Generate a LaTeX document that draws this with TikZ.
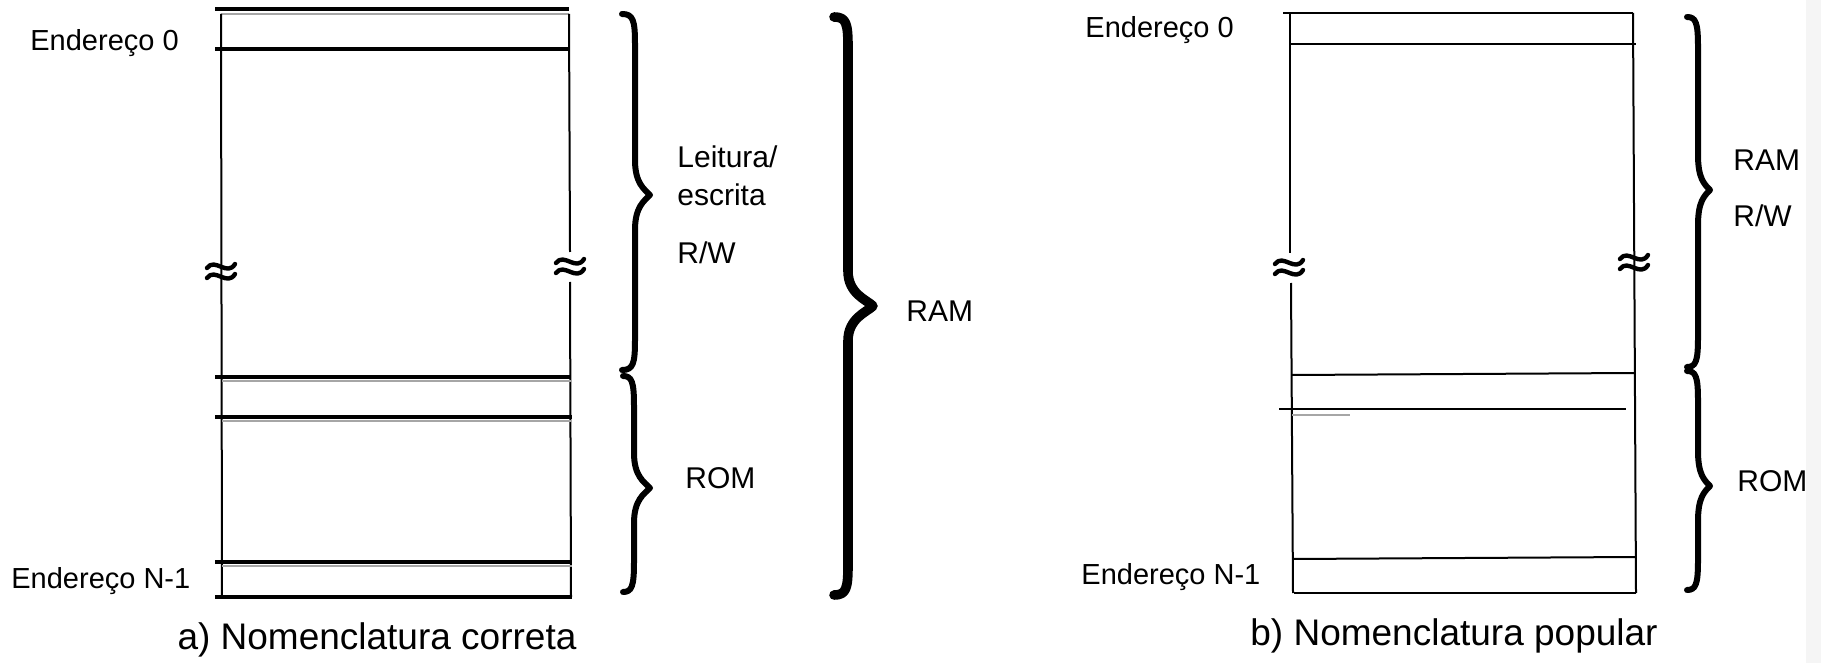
\documentclass[tikz,border=0pt]{standalone}
\usepackage{fontspec}
\setmainfont{Liberation Sans}
\newcommand\cbrace[7]{% #1 style, #2 x of ends, #3 ytop, #4 x body, #5 x tip, #6 y tip, #7 ybot
  \draw[#1] (#2,#3) .. controls (#4-2,#3) and (#4,#3+6) .. (#4,#3+30)
    -- (#4,#6-35) .. controls (#4,#6-12) and (#5-6,#6-6) .. (#5,#6)
    .. controls (#5-6,#6+6) and (#4,#6+12) .. (#4,#6+35)
    -- (#4,#7-30) .. controls (#4,#7-6) and (#4-2,#7) .. (#2,#7);}
\tikzset{
  pics/apx/.style={code={
    \draw[line width=2.2pt, line cap=round] (-14,-4) .. controls (-6,-15) and (6,5) .. (14,-8);
    \draw[line width=2.2pt, line cap=round] (-14,6) .. controls (-6,-5) and (6,15) .. (14,2);
  }}
}
\begin{document}
\begin{tikzpicture}[x=0.5pt,y=-0.5pt, line join=round,
  edge/.style={line width=1pt},
  thickln/.style={line width=1.6pt},
  ghost/.style={line width=0.6pt, black!35},
  brc/.style={line width=3pt, line cap=round},
  bigbrc/.style={line width=4.8pt, line cap=round},
  lbl/.style={font=\fontsize{15}{18}\selectfont, inner sep=0pt, anchor=west},
  addr/.style={font=\fontsize{14.5}{17}\selectfont, inner sep=0pt, anchor=west},
  capt/.style={font=\fontsize{18.5}{22}\selectfont, inner sep=0pt}]
\useasboundingbox (0,0) rectangle (1821,663);

% ---------- (a) ----------
\draw[thickln] (215,9) -- (569,9);
\draw[ghost] (221,14) -- (569,14);
\draw[edge] (221,14) -- (222,597);
\draw[edge] (569,14) -- (570,252);
\draw[edge] (570,282) -- (571,597);
\draw[thickln] (215,49) -- (570,49);
\draw[thickln] (215,377) -- (571,377);
\draw[ghost] (222,381) -- (571,381);
\draw[thickln] (215,417) -- (572,417);
\draw[ghost] (222,421) -- (572,421);
\draw[thickln] (215,562) -- (572,562);
\draw[ghost] (222,566) -- (572,566);
\draw[thickln] (215,597) -- (572,597);
\pic at (221,272) {apx};
\pic at (570,267) {apx};

\cbrace{brc}{622}{14}{635}{650}{195}{370}
\cbrace{brc}{623}{376}{634}{650}{488}{592}
\cbrace{bigbrc}{834}{17}{848}{873}{306}{595}

\node[addr] (e0a) at (30,43) {Endereço 0};
\node[addr] (ena) at (11,581) {Endereço N-1};
\node[lbl] (lei) at (677,157) {Leitura/};
\node[lbl] (esc) at (677,195) {escrita};
\node[lbl] (rwa) at (677,253) {R/W};
\node[lbl] (roma) at (685,478) {ROM};
\node[lbl] (rama) at (906,311) {RAM};
\node[capt] (capa) at (377,640) {a) Nomenclatura correta};

% ---------- (b) ----------
\draw[edge] (1283,13) -- (1633,13);
\draw[edge] (1290,44) -- (1636,44);
\draw[edge] (1290,13) -- (1290,253);
\draw[edge] (1291,283) -- (1293,593);
\draw[edge] (1633,13) -- (1636,593);
\draw[edge] (1292,375) -- (1634,373);
\draw[line width=1.3pt] (1279,409) -- (1626,409);
\draw[ghost] (1292,415) -- (1350,415);
\draw[edge] (1293,559) -- (1636,557);
\draw[edge] (1294,593) -- (1636,593);
\pic at (1289,268) {apx};
\pic at (1634,263) {apx};

\cbrace{brc}{1687}{17}{1698}{1710}{190}{367}
\cbrace{brc}{1687}{371}{1698}{1710}{486}{590}

\node[addr] (e0b) at (1085,30) {Endereço 0};
\node[addr] (enb) at (1081,577) {Endereço N-1};
\node[lbl] (ramb) at (1733,160) {RAM};
\node[lbl] (rwb) at (1733,216) {R/W};
\node[lbl] (romb) at (1737,481) {ROM};
\node[capt] (capb) at (1454,636) {b) Nomenclatura popular};

\fill[black!4] (1806,0) rectangle (1821,663);
\end{tikzpicture}
\end{document}
